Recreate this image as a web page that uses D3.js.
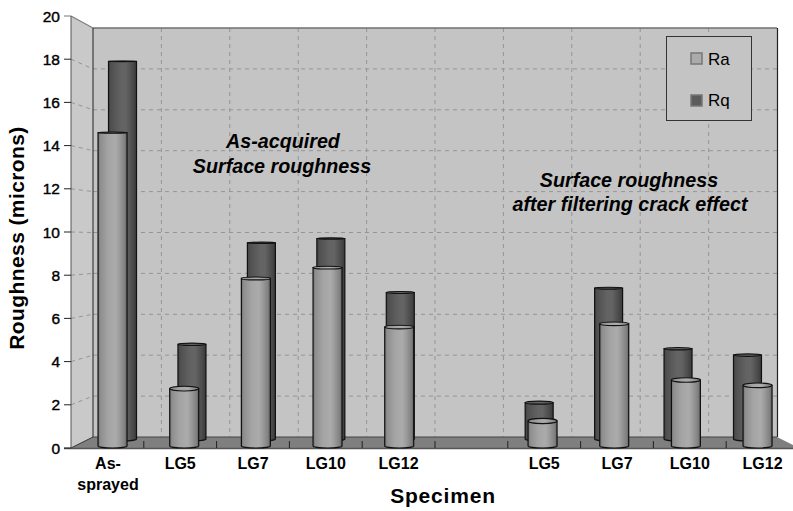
<!DOCTYPE html>
<html><head><meta charset="utf-8">
<script src="https://cdn.jsdelivr.net/npm/d3@7"></script>
<style>html,body{margin:0;padding:0;background:#fff}svg{display:block}text{font-family:"Liberation Sans",Arial,sans-serif}</style>
</head><body><svg id="c" width="793" height="511"></svg>
<script>
const categories=["As-sprayed","LG5","LG7","LG10","LG12","","LG5 ","LG7 ","LG10 ","LG12 "];
const ra=[14.6,2.75,7.85,8.35,5.6,null,1.25,5.75,3.15,2.9];
const rq=[17.9,4.8,9.5,9.7,7.2,null,2.1,7.4,4.6,4.3];
const yTicks=d3.range(0,21,2);
const svg=d3.select("#c");
const y=d3.scaleLinear().domain([0,20]).range([448,16]);
const yBack=d3.scaleLinear().domain([0,20]).range([437,28]);
const xFront=d3.scaleBand().domain(categories).range([71,799]);
const xBack=d3.scaleBand().domain(categories).range([93,777]);
const xRa=d3.scaleBand().domain(categories).range([76.7,793.4]);
const xRq=d3.scaleBand().domain(categories).range([87.8,782.2]);
const defs=svg.append("defs");
function grad(id,stops){
  const g=defs.append("linearGradient").attr("id",id);
  stops.forEach(s=>g.append("stop").attr("offset",s[0]).attr("stop-color",s[1]));
}
grad("gRa",[[0,"#707070"],[.08,"#8e8e8e"],[.35,"#a4a4a4"],[.6,"#ababab"],[.72,"#9e9e9e"],[.92,"#808080"],[1,"#606060"]]);
grad("gRq",[[0,"#444"],[.1,"#505050"],[.45,"#636363"],[.62,"#646464"],[.85,"#4c4c4c"],[1,"#3a3a3a"]]);
svg.append("polygon").attr("points",[[93,28],[777,28],[777,437],[93,437]].join(" ")).attr("fill","#c4c4c4");
svg.append("polygon").attr("points",[[71,16],[93,28],[93,437],[71,448]].join(" ")).attr("fill","#c9c9c9");
const dash="4,4", gridC="#959595";
yTicks.filter(d=>d>0&&d<20).forEach(d=>{
  svg.append("line").attr("x1",93).attr("x2",777).attr("y1",yBack(d)).attr("y2",yBack(d)).attr("stroke",gridC).attr("stroke-dasharray",dash);
  svg.append("line").attr("x1",71).attr("x2",93).attr("y1",y(d)).attr("y2",yBack(d)).attr("stroke",gridC).attr("stroke-dasharray",dash);
});
categories.slice(1).forEach(c=>{
  const bx=xBack(c);
  svg.append("line").attr("x1",bx).attr("x2",bx).attr("y1",28).attr("y2",437).attr("stroke",gridC).attr("stroke-dasharray",dash);
});
svg.append("line").attr("x1",71).attr("x2",93).attr("y1",16).attr("y2",28).attr("stroke","#808080").attr("stroke-width",1.3);
svg.append("line").attr("x1",93).attr("x2",777).attr("y1",28).attr("y2",28).attr("stroke","#707070").attr("stroke-width",1.5);
svg.append("line").attr("x1",93).attr("x2",93).attr("y1",28).attr("y2",437).attr("stroke","#222");
svg.append("line").attr("x1",71).attr("x2",71).attr("y1",16).attr("y2",448).attr("stroke","#555");
svg.append("line").attr("x1",777.5).attr("x2",777.5).attr("y1",28).attr("y2",437).attr("stroke","#222").attr("stroke-width",1.2);
svg.append("polygon").attr("points",[[71,448],[93,437],[777,437],[799,448]].join(" ")).attr("fill","#7f7f7f");
svg.append("line").attr("x1",71).attr("x2",93).attr("y1",448).attr("y2",437).attr("stroke","#333");
svg.append("line").attr("x1",93).attr("x2",777).attr("y1",437).attr("y2",437).attr("stroke","#444");
svg.append("line").attr("x1",64).attr("x2",799).attr("y1",448.5).attr("y2",448.5).attr("stroke","#555").attr("stroke-width",1.5);
categories.slice(1).forEach(c=>{
  const fx=xFront(c);
  svg.append("line").attr("x1",fx).attr("x2",fx).attr("y1",441).attr("y2",448).attr("stroke","#222");
});
yTicks.forEach(d=>{
  svg.append("line").attr("x1",64).attr("x2",71).attr("y1",y(d)).attr("y2",y(d)).attr("stroke",d===20?"#777":"#222");
  svg.append("text").attr("x",60).attr("y",y(d)+5.5).attr("text-anchor","end").attr("font-size",15.5).attr("stroke","#000").attr("stroke-width",.4).text(d);
});
function cyl(cx,w,top,bot,fill,ry){
  const rx=w/2,g=svg.append("g"),l=cx-rx,r=cx+rx;
  g.append("path").attr("d",`M${l},${top}L${l},${bot-2}A${rx},2 0 0 0 ${r},${bot-2}L${r},${top}Z`).attr("fill",fill).attr("stroke","#111").attr("stroke-width",1.2);
  g.append("ellipse").attr("cx",cx).attr("cy",top).attr("rx",rx).attr("ry",ry).attr("fill",fill).attr("stroke","#111").attr("stroke-width",1.1);
}
const flat=v=>Math.max(0.6,2.8-v*0.17);
categories.forEach((c,i)=>{ if(rq[i]!=null) cyl(xRq(c)+xRq.bandwidth()/2,28,y(rq[i]),441,"url(#gRq)",flat(rq[i])*.6); });
categories.forEach((c,i)=>{ if(ra[i]!=null) cyl(xRa(c)+xRa.bandwidth()/2,29,y(ra[i]),448,"url(#gRa)",flat(ra[i])); });
function lab(x,yy,t){svg.append("text").attr("x",x).attr("y",yy).attr("text-anchor","middle").attr("font-size",16).attr("font-weight","700").text(t);}
categories.forEach(c=>{
  const t=c.trim(); if(!t)return;
  if(t==="As-sprayed"){lab(108,469,"As-");lab(108,490,"sprayed");}
  else lab(xFront(c)+xFront.bandwidth()/2,469,t);
});
svg.append("text").attr("x",443).attr("y",503).attr("text-anchor","middle").attr("font-size",21).attr("font-weight","700").attr("letter-spacing",.8).text("Specimen");
svg.append("text").attr("transform","translate(24,238) rotate(-90)").attr("text-anchor","middle").attr("font-size",21).attr("font-weight","700").attr("letter-spacing",.4).text("Roughness (microns)");
function note(x,yy,t){svg.append("text").attr("x",x).attr("y",yy).attr("text-anchor","middle").attr("font-size",19.7).attr("font-weight","700").attr("font-style","italic").text(t);}
note(283,148,"As-acquired");note(282,173,"Surface roughness");
note(629,187,"Surface roughness");note(630,211,"after filtering crack effect");
svg.append("rect").attr("x",666.5).attr("y",36.5).attr("width",85).attr("height",84).attr("fill","#c4c4c4").attr("stroke","#333");
svg.append("rect").attr("x",691).attr("y",53).attr("width",11).attr("height",11).attr("fill","#ababab").attr("stroke","#777").attr("stroke-width",1.5);
svg.append("rect").attr("x",691).attr("y",95).attr("width",11).attr("height",11).attr("fill","#5c5c5c").attr("stroke","#777").attr("stroke-width",1.5);
svg.append("text").attr("x",708).attr("y",65).attr("font-size",17).text("Ra");
svg.append("text").attr("x",708).attr("y",106).attr("font-size",17).text("Rq");
</script></body></html>
